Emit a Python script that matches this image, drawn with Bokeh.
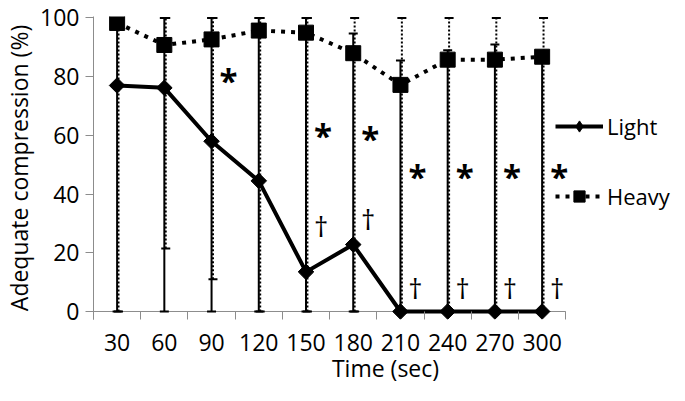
from bokeh.plotting import figure
from bokeh.models import (ColumnDataSource, Whisker, TeeHead, FixedTicker,
                          Legend, LegendItem, Range1d, CDSView, IndexFilter)
from bokeh.transform import dodge
from bokeh.core.properties import value
from bokeh.embed import file_html
from bokeh.resources import INLINE

# ---- data ----
times = [30, 60, 90, 120, 150, 180, 210, 240, 270, 300]
light = [77, 76.2, 58, 44.5, 13.5, 22.8, 0, 0, 0, 0]
heavy = [98.3, 90.8, 92.7, 95.7, 95, 88, 77.2, 85.8, 85.8, 86.8]
light_lo = [0, 0, 0, 0, 0, 0, 0, 0, 0, 0]
light_hi = [100, 100, 100, 100, 100, 94.7, 85.5, 89, 91, 87]
heavy_lo = [0, 21.5, 11, 0, 0, 0, 0, 0, 0, 0]
heavy_hi = [100, 100, 100, 100, 100, 100, 100, 100, 100, 100]
star_times = [90, 150, 180, 210, 240, 270, 300]
star_y = [80.2, 61.4, 60.4, 47.2, 47.2, 47.2, 47.2]
dagger_times = [150, 180, 210, 240, 270, 300]
dagger_y = [29.7, 32.3, 8.6, 8.6, 8.6, 8.6]
y_ticks = [0, 20, 40, 60, 80, 100]

FONT = "Open Sans"
GRAY = "#8c8c8c"
FS = "23px"

half = (times[1] - times[0]) / 2
boundaries = [t - half for t in times] + [times[-1] + half]
legend_room = 71  # extra x-range on the right that holds the legend

src = ColumnDataSource(dict(t=times, light=light, heavy=heavy,
                            light_lo=light_lo, light_hi=light_hi,
                            heavy_lo=heavy_lo, heavy_hi=heavy_hi))
star_src = ColumnDataSource(dict(t=star_times, y=star_y, s=["*"] * len(star_times)))
dag_src = ColumnDataSource(dict(t=dagger_times, y=dagger_y, s=["\u2020"] * len(dagger_times)))
base_src = ColumnDataSource(dict(x0=[boundaries[0]], x1=[boundaries[-1]], y=[0]))

p = figure(width=677, height=393,
           x_range=Range1d(boundaries[0], boundaries[-1] + legend_room),
           y_range=Range1d(-2.73, 100.5),
           output_backend="svg", toolbar_location=None,
           min_border_left=88, min_border_right=0,
           min_border_top=16, min_border_bottom=74)
p.outline_line_color = None
p.grid.visible = False
p.background_fill_color = "white"

# x axis
xa = p.xaxis[0]
xa.ticker = FixedTicker(ticks=times, minor_ticks=boundaries)
xa.axis_line_color = None
xa.major_tick_line_color = None
xa.major_tick_in = 0
xa.major_tick_out = 0
xa.minor_tick_line_color = GRAY
xa.minor_tick_in = 8
xa.minor_tick_out = 0
xa.major_label_standoff = 14
xa.major_label_text_font = FONT
xa.major_label_text_font_size = FS
xa.major_label_text_line_height = 0.8
xa.major_label_text_color = "black"
xa.axis_label = "Time (sec)"
xa.axis_label_text_font = FONT
xa.axis_label_text_font_size = FS
xa.axis_label_text_line_height = 0.5
xa.axis_label_text_font_style = "normal"
xa.axis_label_text_color = "black"
xa.axis_label_standoff = -2

# y axis
ya = p.yaxis[0]
ya.ticker = FixedTicker(ticks=y_ticks)
ya.axis_line_color = GRAY
ya.major_tick_line_color = GRAY
ya.major_tick_in = 0
ya.major_tick_out = 8
ya.minor_tick_line_color = None
ya.major_label_standoff = 6
ya.major_label_text_font = FONT
ya.major_label_text_font_size = FS
ya.major_label_text_color = "black"
ya.axis_label = "Adequate compression (%)"
ya.axis_label_text_font = FONT
ya.axis_label_text_font_size = FS
ya.axis_label_text_line_height = 0.7
ya.axis_label_text_font_style = "normal"
ya.axis_label_text_color = "black"
ya.axis_label_standoff = 2

# baseline at y = 0 spanning the category area
p.segment("x0", "y", "x1", "y", source=base_src, line_color=GRAY, line_width=1, level="underlay")

# error bars
wl = Whisker(source=src, base="t", lower="light_lo", upper="light_hi",
             line_color="black", line_width=2, level="underlay",
             upper_head=TeeHead(size=9, line_width=2, line_color="black"),
             lower_head=TeeHead(size=9, line_width=2, line_color="black"))
wh = Whisker(source=src, base=dodge("t", 0.9), lower="heavy_lo", upper="heavy_hi",
             line_color="black", line_width=2, line_dash="2 2", level="underlay",
             upper_head=TeeHead(size=9, line_width=2, line_color="black"),
             lower_head=TeeHead(size=9, line_width=2, line_color="black"))
p.add_layout(wl)
p.add_layout(wh)

# series
l_line = p.line("t", "light", source=src, line_color="black", line_width=4)
h_line = p.line("t", "heavy", source=src, line_color="black", line_width=4,
                line_dash="4 6")
# legend key for "Light": one diamond hidden under the first rotated-square marker
l_key = p.scatter("t", "light", source=src, view=CDSView(filter=IndexFilter([0])),
                  marker="diamond", size=13, fill_color="black", line_color="black")
l_pts = p.scatter("t", "light", source=src, marker="square", angle=0.7853981634,
                  size=11, fill_color="black", line_color="black")
h_pts = p.scatter("t", "heavy", source=src, marker="square",
                  size=15, fill_color="black", line_color="black")

# significance marks
p.text("t", "y", text="s", source=star_src, x_offset=17, y_offset=4,
       text_font=value(FONT), text_font_size="33px", text_font_style="bold",
       text_align="center", text_baseline="middle", text_color="black")
p.text("t", "y", text="s", source=dag_src, x_offset=15, y_offset=2,
       text_font=value(FONT), text_font_size="28px",
       text_align="center", text_baseline="middle", text_color="black")

legend = Legend(items=[LegendItem(label="Light", renderers=[l_line, l_key]),
                       LegendItem(label="Heavy", renderers=[h_line, h_pts])],
                location=(462, 108), orientation="vertical",
                glyph_width=48, glyph_height=28, label_height=28,
                label_standoff=4, spacing=40, padding=0, margin=0,
                border_line_color=None, background_fill_alpha=0,
                label_text_font=FONT, label_text_font_size="22px",
                label_text_color="black")
p.add_layout(legend, "center")

open("out.html", "w").write(file_html(p, INLINE))
